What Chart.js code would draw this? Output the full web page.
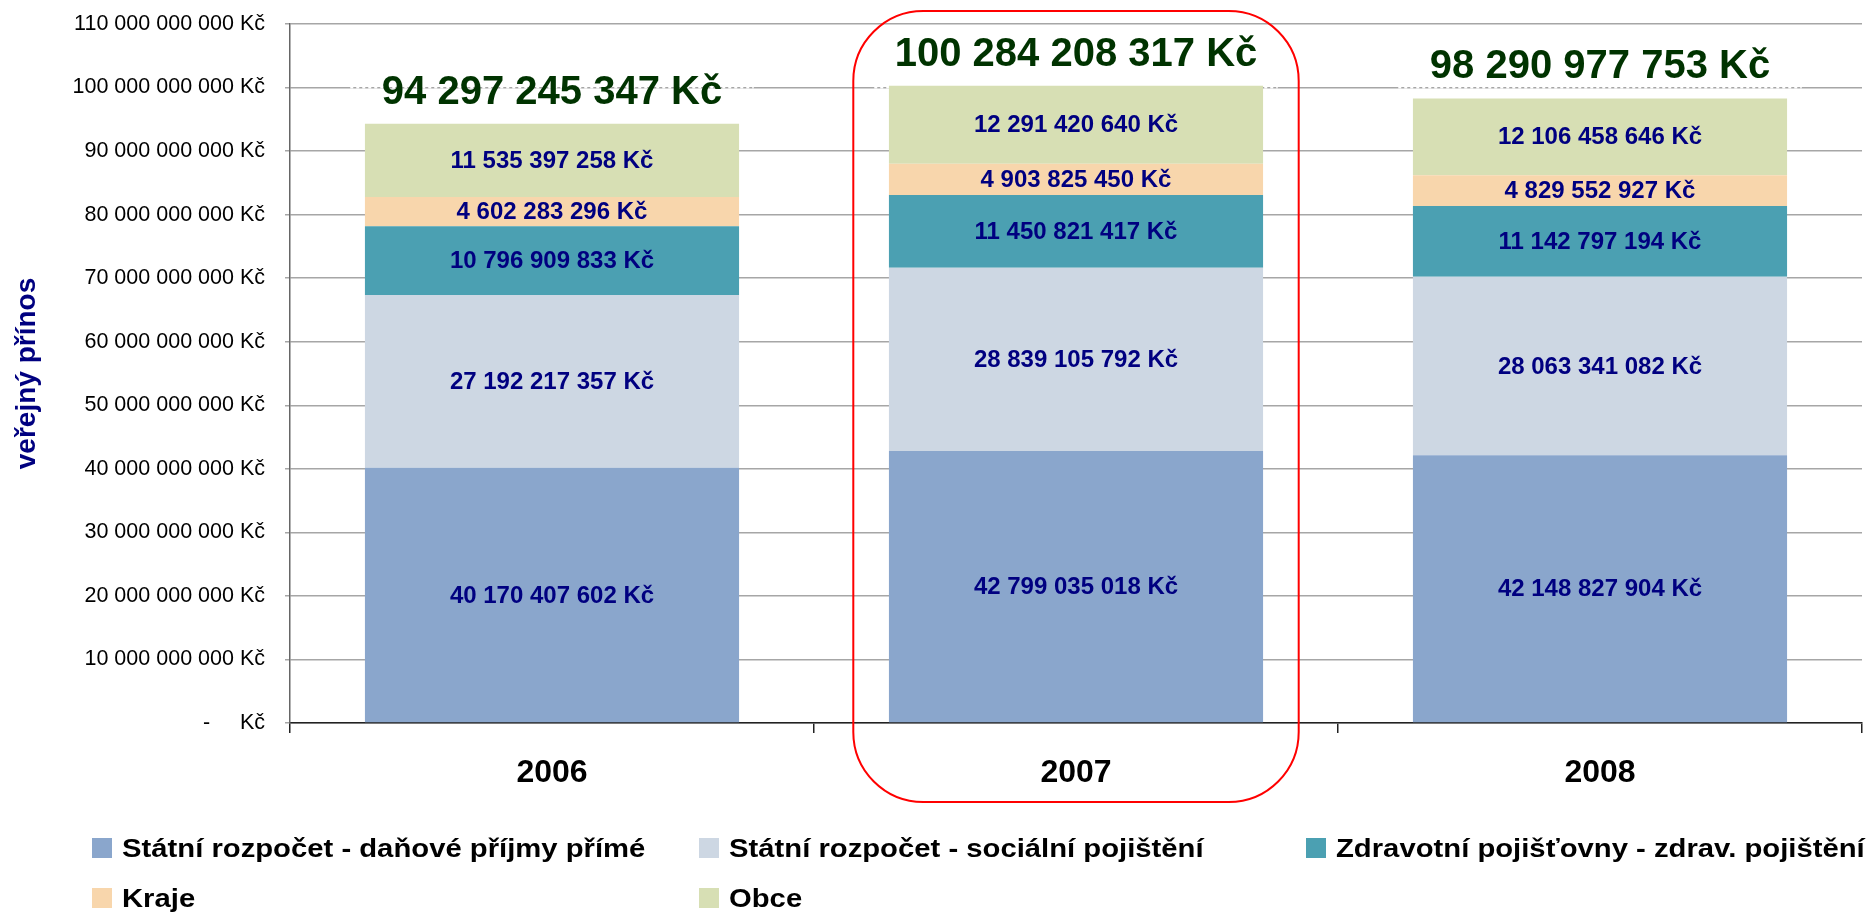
<!DOCTYPE html>
<html>
<head>
<meta charset="utf-8">
<script src="https://cdn.jsdelivr.net/npm/chart.js@4/dist/chart.umd.min.js"></script>
<style>
  body { margin: 0; background: #fff; font-family: "Liberation Sans", Arial, sans-serif; }
  #wrap { position: relative; width: 1873px; height: 913px; }
  #legend {
    position: absolute; left: 92px; top: 823px;
    display: grid; grid-template-columns: 607px 607px 607px;
  }
  .item { height: 50px; display: flex; align-items: center; font-weight: bold; font-size: 26px; color: #000; white-space: nowrap; }
  .item span.t { display: inline-block; transform: scaleX(1.125); transform-origin: left center; }
  .box { width: 20px; height: 20px; margin-right: 10px; flex: none; }
</style>
</head>
<body>
<div id="wrap">
  <canvas id="chart" width="1873" height="913"></canvas>
  <div id="legend"></div>
</div>
<script>
const years = ["2006", "2007", "2008"];
const seriesNames = [
  "Státní rozpočet - daňové příjmy přímé",
  "Státní rozpočet - sociální pojištění",
  "Zdravotní pojišťovny - zdrav. pojištění",
  "Kraje",
  "Obce"
];
const danovePrijmy = [40170407602, 42799035018, 42148827904];
const socialniPojisteni = [27192217357, 28839105792, 28063341082];
const zdravotniPojisteni = [10796909833, 11450821417, 11142797194];
const kraje = [4602283296, 4903825450, 4829552927];
const obce = [11535397258, 12291420640, 12106458646];
const totals = [94297245347, 100284208317, 98290977753];
const yTicks = [0, 10e9, 20e9, 30e9, 40e9, 50e9, 60e9, 70e9, 80e9, 90e9, 100e9, 110e9];

const colors = ["#8aa6cc", "#cdd7e3", "#4ba0b2", "#f8d6ac", "#d7dfb4"];
const FONT = '"Liberation Sans", Arial, sans-serif';

const fmt = v => String(Math.round(v)).replace(/\B(?=(\d{3})+(?!\d))/g, " ");

const seriesData = [danovePrijmy, socialniPojisteni, zdravotniPojisteni, kraje, obce];

// labels inside the segments + totals on top
const labelsPlugin = {
  id: "segLabels",
  beforeDatasetsDraw(chart) {
    // the total label boxes make the 100 bn gridline look dashed
    const ctx = chart.ctx;
    const y = chart.scales.y.getPixelForValue(100e9);
    const half = (chart.scales.x.getPixelForValue(1) - chart.scales.x.getPixelForValue(0)) * 0.385;
    ctx.save();
    ctx.strokeStyle = "#fff";
    ctx.lineWidth = 2;
    ctx.setLineDash([3, 3]);
    chart.getDatasetMeta(0).data.forEach(el => {
      ctx.beginPath();
      ctx.moveTo(el.x - half, y);
      ctx.lineTo(el.x + half, y);
      ctx.stroke();
    });
    ctx.restore();
  },
  afterDatasetsDraw(chart) {
    const ctx = chart.ctx;
    ctx.save();
    ctx.textAlign = "center";
    ctx.textBaseline = "middle";
    ctx.fillStyle = "#000080";
    ctx.font = "bold 24px " + FONT;
    chart.data.datasets.forEach((ds, i) => {
      chart.getDatasetMeta(i).data.forEach((el, j) => {
        ctx.fillText(fmt(ds.data[j]) + " Kč", el.x, (el.y + el.base) / 2 + 1);
      });
    });
    const top = chart.getDatasetMeta(chart.data.datasets.length - 1).data;
    ctx.fillStyle = "#003300";
    ctx.font = "bold 40px " + FONT;
    top.forEach((el, j) => {
      ctx.fillText(fmt(totals[j]) + " Kč", el.x, el.y - 31);
    });
    ctx.restore();
  }
};

// red rounded frame round 2007
const framePlugin = {
  id: "frame",
  afterDraw(chart) {
    const x = chart.scales.x;
    const area = chart.chartArea;
    const cx = x.getPixelForValue(1);
    const half = (x.getPixelForValue(1) - x.getPixelForValue(0)) * 0.425;
    const ctx = chart.ctx;
    ctx.save();
    ctx.strokeStyle = "#ff0000";
    ctx.lineWidth = 2;
    ctx.beginPath();
    ctx.roundRect(cx - half, area.top - 13, half * 2, area.bottom - area.top + 92, 70);
    ctx.stroke();
    ctx.restore();
  }
};

new Chart(document.getElementById("chart"), {
  type: "bar",
  data: {
    labels: years,
    datasets: seriesData.map((d, i) => ({
      label: seriesNames[i],
      data: d,
      backgroundColor: colors[i],
      borderWidth: 0,
      barPercentage: 0.714,
      categoryPercentage: 1
    }))
  },
  options: {
    responsive: false,
    animation: false,
    layout: { padding: { top: 24, right: 11, left: 0, bottom: 0 } },
    plugins: { legend: { display: false }, tooltip: { enabled: false } },
    scales: {
      x: {
        stacked: true,
        afterFit: s => { s.height = 190; },
        grid: { display: true, offset: true, drawOnChartArea: false, drawTicks: true, tickLength: 10, color: "#222", lineWidth: 1.5 },
        border: { display: true, color: "#222", width: 1.5 },
        ticks: { color: "#000", padding: 21, font: { family: FONT, size: 32, weight: "bold" } }
      },
      y: {
        stacked: true,
        min: 0,
        max: 110e9,
        afterFit: s => { s.width = 290; s.paddingTop = 12; s.paddingBottom = 12; },
        afterBuildTicks: s => { s.ticks = yTicks.map(v => ({ value: v })); },
        grid: { color: "#a6a6a6", lineWidth: 1.5, drawTicks: true, tickLength: 5 },
        border: { display: true, color: "#666", width: 1.5 },
        ticks: {
          color: "#000",
          padding: 20,
          font: { family: FONT, size: 21.5 },
          callback: v => v === 0 ? "-     Kč" : fmt(v) + " Kč"
        },
        title: {
          display: true,
          text: "veřejný přínos",
          color: "#000080",
          padding: { top: 10, bottom: 0 },
          font: { family: FONT, size: 28, weight: "bold" }
        }
      }
    }
  },
  plugins: [labelsPlugin, framePlugin]
});

const legend = document.getElementById("legend");
seriesNames.forEach((name, i) => {
  const item = document.createElement("div");
  item.className = "item";
  const box = document.createElement("span");
  box.className = "box";
  box.style.background = colors[i];
  const t = document.createElement("span");
  t.className = "t";
  t.textContent = name;
  item.appendChild(box);
  item.appendChild(t);
  legend.appendChild(item);
});
</script>
</body>
</html>
